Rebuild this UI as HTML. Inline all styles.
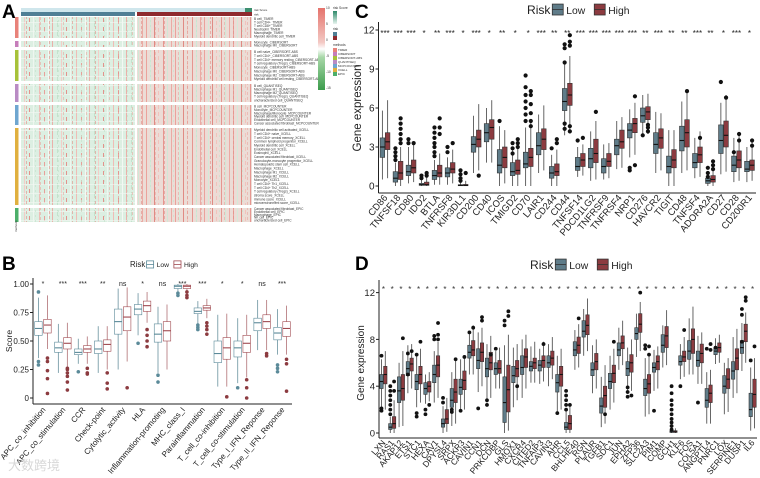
<!DOCTYPE html>
<html><head><meta charset="utf-8"><style>
html,body{margin:0;padding:0;background:#fff;}
svg{display:block;font-family:"Liberation Sans","Noto Sans CJK SC",sans-serif;}
</style></head><body>
<svg id="fig" width="760" height="478" viewBox="0 0 760 478" xmlns="http://www.w3.org/2000/svg">
<defs>
<pattern id="hmA" width="37" height="9" patternUnits="userSpaceOnUse">
<rect width="37" height="9" fill="#dcefe2"/>
<rect x="2" width="1" height="9" fill="#efbcb6"/><rect x="7" y="0" width="1" height="5" fill="#e8a09a"/>
<rect x="11" width="1" height="9" fill="#f4f8f4"/><rect x="15" width="1" height="9" fill="#eab0aa"/>
<rect x="20" y="3" width="1" height="6" fill="#c4e2cc"/><rect x="24" width="1" height="9" fill="#f3cdc8"/>
<rect x="29" width="1" height="4" fill="#e3928c"/><rect x="33" width="1" height="9" fill="#eef6ef"/>
<rect y="4" width="37" height="0.6" fill="#f3f8f3"/>
</pattern>
<pattern id="hmB" width="29" height="7" patternUnits="userSpaceOnUse">
<rect width="29" height="7" fill="#ecdcd6"/>
<rect x="1" width="1" height="7" fill="#eba29c"/><rect x="5" width="1" height="7" fill="#d4ead9"/>
<rect x="9" width="1" height="7" fill="#e08a84"/><rect x="13" width="1" height="4" fill="#f2c2bc"/>
<rect x="18" width="1" height="7" fill="#e6958f"/><rect x="22" width="1" height="7" fill="#d0e8d6"/>
<rect x="26" width="1" height="7" fill="#ebaaa4"/>
</pattern>
<pattern id="hmC" width="23" height="5" patternUnits="userSpaceOnUse">
<rect x="3" y="1" width="1" height="3" fill="#e38d87" opacity="0.6"/>
<rect x="12" y="0" width="1" height="2" fill="#c6e3cd" opacity="0.7"/>
<rect x="17" y="2" width="1" height="3" fill="#eaa6a0" opacity="0.6"/>
</pattern>
<linearGradient id="lgA" x1="0" y1="0" x2="0" y2="1">
<stop offset="0" stop-color="#e5736c"/><stop offset="0.42" stop-color="#f3c9c4"/><stop offset="0.5" stop-color="#ffffff"/><stop offset="0.6" stop-color="#a8d8a8"/><stop offset="1" stop-color="#3c9c4c"/>
</linearGradient>
<linearGradient id="lgR" x1="0" y1="0" x2="0" y2="1">
<stop offset="0" stop-color="#2e8a6a"/><stop offset="1" stop-color="#e8f4ef"/>
</linearGradient>
</defs>
<g id="panelA"></g>
<g id="panelB"></g>
<g id="panelC"></g>
<g id="panelD"></g>
<text x="8" y="470" font-size="13" fill="#d8d8d8">大数跨境</text>
</svg>
<script>
// ---------- Panel C data ----------
const genesC = ["CD86","TNFSF18","CD80","IDO2","BTLA","TNFRSF8","KIR3DL1","CD200","CD40","ICOS","TMIGD2","CD70","LAIR1","CD244","CD44","TNFSF14","PDCD1LG2","TNFRSF9","TNFRSF4","NRP1","CD276","HAVCR2","TIGIT","CD48","TNFSF4","ADORA2A","CD27","CD28","CD200R1"];
const sigC = ["***","***","***","*","**","***","*","***","*","**","*","*","***","**","**","***","***","***","***","***","**","***","**","**","***","**","*","***","*"];
const lowC = [[2.2,3.0,3.7,0.5,5.8],[0.3,0.6,1.1,0,1.8],[0.8,1.1,1.6,0.2,3],[0.05,0.1,0.2,0,0.5],[0.5,0.8,1.2,0.1,2],[0.7,1.0,1.4,0.1,2.2],[0.02,0.05,0.1,0,0.3],[2.6,3.2,3.8,1.0,5.4],[3.4,4.1,4.8,1.8,6.0],[1.0,1.6,2.8,0,4.6],[0.8,1.1,1.8,0,3],[1.4,1.7,2.6,0,4.5],[2.4,3.1,4.1,1.0,5.5],[0.6,1.0,1.5,0,2.4],[5.8,6.5,7.5,3.9,9.4],[1.2,1.5,2.2,0.7,3.0],[1.4,2.1,2.9,0.4,4.2],[1.0,1.5,2.1,0.5,3.2],[2.4,3.1,3.6,1.3,5.0],[3.7,4.3,4.8,2.2,5.9],[4.9,5.4,6.0,4.0,7.0],[2.5,3.2,4.1,1.0,5.7],[1.0,1.5,2.3,0,4.3],[2.7,3.5,4.6,1.0,6.5],[1.4,1.8,2.5,0.6,3.7],[0.2,0.4,0.6,0,1.0],[2.5,3.5,4.7,0.9,6.4],[1.1,1.6,2.3,0.3,3.7],[1.1,1.3,1.9,0.3,3.0]];
const highC = [[2.8,3.4,4.1,0.6,6.6],[0.5,1.0,1.9,0,3],[1.0,1.4,2.0,0.3,3.3],[0.05,0.1,0.3,0,0.7],[0.7,1.0,1.6,0.1,2.5],[1.0,1.3,1.8,0.2,2.8],[0.02,0.05,0.12,0,0.4],[3.0,3.6,4.3,1.2,6.3],[3.6,4.5,5.1,1.8,6.6],[1.4,2.2,3.0,0.2,4.3],[0.9,1.2,2.0,0,3.1],[1.5,2.2,2.9,0,5],[2.8,3.6,4.4,1.2,6.2],[0.8,1.1,1.7,0,2.8],[6.2,7.0,7.9,4.3,10],[1.5,2.0,2.5,0.8,3.2],[1.8,2.5,3.6,0.5,5.0],[1.5,1.9,2.5,0.6,3.3],[2.9,3.4,4.3,1.4,5.3],[4.1,4.8,5.2,2.4,6.4],[5.1,5.7,6.1,4.0,7.1],[2.9,3.7,4.4,1.2,5.6],[1.4,2.0,2.8,0,4.3],[3.0,4.1,5.1,1.2,7.2],[1.8,2.4,3.0,0.7,4.2],[0.3,0.5,0.8,0,1.3],[3.0,3.9,5.0,1.1,7.0],[1.4,2.0,2.7,0.4,4.1],[1.2,1.6,2.0,0.4,3.5]];
const outLowC = [[],[2.0,2.3,2.6,2.9],[3.3,3.6],[0.6,0.8],[2.3,2.6,3.0,3.3,3.7,4.1,4.5],[2.6,3.0],[0.4,0.6,0.9,1.2],[],[],[5.0],[2.5,2.9,3.3],[5.0,5.5,6.0,6.5,7.0,7.6,8.5],[],[2.9],[4.4,4.8,10.6,9.5,10.9],[3.5],[],[],[],[1.2,1.4],[3.9],[],[],[],[],[1.0,1.4,0.7],[8.0],[2.6],[]];
const outHighC = [[],[3.3,3.6,4.0,4.4,4.8,5.2],[3.3],[0.8,1.0],[4.0,4.5,5.2],[3.3],[1.0],[0.8],[],[],[3.0,3.3,3.6],[4.6,5.0,5.6,6.3,7.0,7.3],[],[3.3,3.6],[4.2,4.6,11.6,11.1,10.8],[3.7],[5.7],[],[],[6.9,1.6],[4.2,4.5,4.7],[],[],[7.3],[3.7],[1.3,1.6,1.9],[6.8],[4.0,3.5],[3.5,3.1]];
const ticksC = [0,3,6,9,12];

// ---------- Panel B data ----------
const catsB = ["APC_co_inhibition","APC_co_stimulation","CCR","Check-point","Cytolytic_activity","HLA","Inflammation-promoting","MHC_class_I","Parainflammation","T_cell_co-inhibition","T_cell_co-stimulation","Type_I_IFN_Reponse","Type_II_IFN_Reponse"];
const sigB = ["*","***","***","**","ns","*","ns","***","***","*","*","ns","***"];
const lowB = [[0.55,0.61,0.67,0.35,0.88],[0.40,0.44,0.49,0.22,0.65],[0.38,0.40,0.43,0.30,0.52],[0.39,0.43,0.50,0.22,0.63],[0.56,0.67,0.78,0.25,0.96],[0.73,0.78,0.82,0.55,0.92],[0.49,0.56,0.65,0.22,0.80],[0.96,0.98,0.99,0.93,1.0],[0.74,0.76,0.79,0.65,0.85],[0.31,0.39,0.50,0.10,0.73],[0.36,0.44,0.50,0.13,0.70],[0.59,0.66,0.70,0.42,0.86],[0.51,0.57,0.62,0.38,0.78]];
const highB = [[0.57,0.64,0.69,0.43,0.90],[0.43,0.48,0.53,0.27,0.66],[0.40,0.43,0.46,0.30,0.54],[0.41,0.47,0.51,0.25,0.63],[0.59,0.71,0.80,0.32,0.97],[0.76,0.81,0.85,0.66,0.93],[0.50,0.59,0.67,0.25,0.82],[0.96,0.98,0.99,0.93,1.0],[0.77,0.79,0.81,0.70,0.87],[0.34,0.44,0.53,0.10,0.74],[0.40,0.48,0.55,0.18,0.73],[0.61,0.67,0.73,0.42,0.86],[0.54,0.61,0.67,0.38,0.81]];
const outLowB = [[0.93,0.32,0.29],[],[0.23],[],[],[0.48],[0.20,0.14],[0.90,0.92],[0.60,0.62,0.64],[],[0.09],[],[0.29,0.26,0.23]];
const outHighB = [[0.35,0.32,0.24,0.17,0.04],[0.25,0.22,0.19,0.14,0.07,0.26],[0.26,0.22,0.21],[0.22,0.13,0.08],[0.09],[0.60,0.55,0.50,0.45],[],[0.88,0.90,0.93],[0.66,0.63,0.60,0.56],[0.01],[0.16,0.09,0.0],[0.39,0.37],[0.34,0.30,0.06]];
const ticksB = [0,0.25,0.5,0.75,1.0];
const tickLabB = ["0","0.25","0.50","0.75","1.00"];

// ---------- Panel D data ----------
const genesD = ["LXN","RAS1","AKAP12","ETS1","STC1","HEXA","CAV1","DPYSL4","SRPX","ACKR3","CAVIN1","CCN1","DCN","PRKCDBP","GLS","HMOX1","CXCR4","CITED2","TNFAIP3","CAVIN3","AHR","CCL5","BHLHE40","RGN","PLAUR","TGFB1","SDC1","JUN","EPHA2","ZFP36","SLC2A3","PIM1","COMP","GCH1","KLF6","FOS","COL5A1","ANGPTL4","PNRC1","LOX","SERPINE1","DUSP1","IL6"];
const lowD = [[3.8,4.4,5.0,1.8,6.3],[0.3,0.5,0.8,0,1.4],[2.6,3.6,4.8,0.5,6.0],[4.9,5.5,6.1,3.4,7.5],[3.7,4.4,5.0,2.2,6.8],[3.3,3.8,4.3,2.5,5.0],[4.3,5.0,5.8,2.6,7.0],[0.5,0.8,1.2,0,2.3],[2.2,2.8,3.8,0.6,5.2],[3.3,3.9,4.6,1.8,6.3],[6.4,6.9,7.5,5.0,8.5],[5.5,6.2,7.2,3.5,8.6],[4.8,5.5,6.4,2.6,7.6],[5.0,5.5,6.0,3.8,7.0],[0.9,2.6,4.8,0,7.5],[4.3,4.9,5.7,2.2,7.3],[5.0,5.6,6.6,3.0,8.0],[5.3,5.7,6.1,4.3,7.4],[5.3,5.8,6.2,4.2,7.2],[5.6,6.0,6.6,4.0,7.6],[3.5,4.3,5.0,1.8,6.6],[0.3,0.5,0.9,0,2.0],[6.6,7.1,7.8,5.4,8.8],[8.2,8.7,9.6,6.6,10.6],[4.9,5.4,6.0,3.4,7.5],[1.7,2.3,3.0,0.5,4.8],[3.8,4.4,5.1,2.0,6.6],[6.6,7.1,7.7,5.4,9.0],[4.9,5.5,6.1,3.4,7.3],[8.0,8.5,9.0,6.5,10.2],[3.2,3.8,4.6,1.4,6.4],[5.2,5.6,6.0,3.6,7.1],[6.9,7.5,8.4,5.6,9.2],[0.05,0.1,0.2,0,0.5],[5.8,6.1,6.6,4.6,7.6],[6.3,7.0,7.9,5.0,9.8],[5.7,6.2,7.0,4.2,8.3],[2.2,2.8,3.8,0.8,5.2],[6.7,7.0,7.3,5.9,8.1],[3.4,4.0,4.9,1.6,6.0],[4.6,5.3,6.1,3.0,8.2],[6.8,7.3,7.9,5.3,9.4],[1.4,2.0,3.4,0.2,5.6]];
const highD = [[4.2,5.0,5.7,2.0,7.0],[0.4,0.8,1.4,0,2.8],[2.8,3.8,5.0,0.6,7.0],[5.3,5.9,6.4,3.8,7.6],[4.2,5.0,5.7,2.6,7.2],[3.5,4.0,4.4,2.7,5.2],[4.8,5.8,6.6,3.0,7.8],[0.8,1.2,2.0,0.1,3.0],[2.6,3.5,4.6,0.8,6.2],[3.7,4.5,5.3,2.0,6.6],[6.6,7.1,7.9,5.0,9.2],[6.1,6.9,7.7,4.0,9.0],[5.4,6.0,6.9,3.0,8.3],[5.1,5.5,6.2,3.8,7.3],[1.8,3.7,5.8,0.2,8.4],[4.8,5.5,6.2,2.8,7.6],[5.6,6.5,7.2,3.8,8.4],[5.5,6.0,6.4,4.3,7.8],[5.6,6.2,6.6,4.4,7.8],[5.8,6.4,7.0,4.6,8.2],[4.0,5.0,5.7,2.0,7.2],[0.3,0.8,1.5,0,2.4],[6.8,7.5,8.2,5.6,9.3],[8.4,9.2,10.1,7.0,11.5],[5.4,6.1,6.8,3.8,8.0],[2.2,3.2,4.0,0.8,5.8],[4.3,5.1,5.8,2.6,7.2],[7.2,7.7,8.3,5.8,9.6],[5.2,6.0,6.7,3.6,8.0],[8.6,9.3,10.2,7.0,11.2],[3.4,4.2,5.0,1.6,6.8],[5.4,6.1,6.6,3.8,7.4],[7.3,8.3,9.1,5.8,10.5],[0.05,0.1,0.2,0,0.4],[6.1,6.5,7.0,4.8,8.2],[6.8,8.0,8.9,5.0,10.8],[6.0,6.8,7.6,4.2,8.6],[2.6,3.4,4.1,0.8,5.4],[6.9,7.3,7.7,6.0,8.4],[3.8,4.6,5.5,1.8,6.4],[5.4,6.4,7.2,3.4,8.9],[7.8,8.7,9.3,6.0,10.3],[2.2,3.3,4.6,0.4,6.4]];
const outLowD = [[6.6,1.9,2.1],[1.6,2.0,2.4,2.8,3.2,3.6,4.0],[],[5.0,6.8],[1.4,1.7,6.7],[2.0,1.6],[8.0,8.3],[2.6,3.0],[1.8,2.0],[1.9],[8.6],[2.1],[2.4,2.8],[7.2],[9.2,9.6],[],[],[],[],[],[1.7],[2.0,2.4,2.8,3.2,3.6],[],[],[],[],[],[],[3.9,3.5,3.1],[],[7.2,7.5],[1.9],[],[0.3,0.6,0.9,1.2,1.6,2.0,2.4,2.8,3.4,4.0],[4.0],[],[2.6],[7.2],[7.3],[],[],[7.8,10.6,10.1],[6.2]];
const outHighD = [[],[4.4,3.6],[8.1],[7.0],[7.8],[2.4],[9.4,8.4,8.0],[],[6.3],[6.5],[9.0],[9.6,9.9],[6.7],[],[10.0,10.4],[4.0],[],[],[7.6],[],[],[2.4],[9.8],[],[],[1.6],[7.8],[],[3.2],[12.0],[7.4,6.7],[],[],[],[8.8],[],[],[7.6,7.1],[],[],[],[11.3,11.6],[7.4]];
const ticksD = [0,4,8,12];

// ---------- Panel A (heatmap annotations) ----------
const groupsA = [[17,38],[41,47],[50,81],[84,102],[105,125],[128,205],[208,222]];
const groupColA = ["#e8827a","#c67dba","#a7c23a","#b98bc4","#6fa6d0","#e0b040","#4caf6a"];
const methodsA = ["TIMER","CIBERSORT","CIBERSORT-ABS","QUANTISEQ","MCPCOUNTER","XCELL","EPIC"];
const rowLabelsA = [
 ["B cell_TIMER","T cell CD4+_TIMER","T cell CD8+_TIMER","Neutrophil_TIMER","Macrophage_TIMER","Myeloid dendritic cell_TIMER"],
 ["Monocyte_CIBERSORT","Macrophage M0_CIBERSORT"],
 ["B cell naive_CIBERSORT-ABS","T cell CD4+_CIBERSORT-ABS","T cell CD4+ memory resting_CIBERSORT-ABS","T cell regulatory (Tregs)_CIBERSORT-ABS","Monocyte_CIBERSORT-ABS","Macrophage M0_CIBERSORT-ABS","Macrophage M2_CIBERSORT-ABS","Myeloid dendritic cell resting_CIBERSORT-ABS"],
 ["B cell_QUANTISEQ","Macrophage M1_QUANTISEQ","Macrophage M2_QUANTISEQ","T cell regulatory (Tregs)_QUANTISEQ","uncharacterized cell_QUANTISEQ"],
 ["B cell_MCPCOUNTER","Monocyte_MCPCOUNTER","Macrophage/Monocyte_MCPCOUNTER","Myeloid dendritic cell_MCPCOUNTER","Endothelial cell_MCPCOUNTER","Cancer associated fibroblast_MCPCOUNTER"],
 ["Myeloid dendritic cell activated_XCELL","T cell CD4+ naive_XCELL","T cell CD4+ central memory_XCELL","Common lymphoid progenitor_XCELL","Myeloid dendritic cell_XCELL","Endothelial cell_XCELL","Eosinophil_XCELL","Cancer associated fibroblast_XCELL","Granulocyte-monocyte progenitor_XCELL","Hematopoietic stem cell_XCELL","Macrophage_XCELL","Macrophage M1_XCELL","Macrophage M2_XCELL","Monocyte_XCELL","T cell CD4+ Th1_XCELL","T cell CD4+ Th2_XCELL","T cell regulatory (Tregs)_XCELL","stroma score_XCELL","immune score_XCELL","microenvironment score_XCELL"],
 ["Cancer associated fibroblast_EPIC","Endothelial cell_EPIC","Macrophage_EPIC","NK cell_EPIC","uncharacterized cell_EPIC"]];

const NS = "http://www.w3.org/2000/svg";
function mk(parent, tag, attrs, txt){
  const e = document.createElementNS(NS, tag);
  for (const k in attrs) e.setAttribute(k, attrs[k]);
  if (txt !== undefined) e.textContent = txt;
  parent.appendChild(e);
  return e;
}

function drawBox(g, cx, w, s, y, fill, stroke, medCol, whiskCol, outs, outCol, r, name){
  const bg = mk(g, "g", {});
  
  
  mk(bg, "line", {x1:cx, x2:cx, y1:y(s[3]), y2:y(s[4]), stroke:whiskCol, "stroke-width":0.9});
  mk(bg, "rect", {x:cx-w/2, y:y(s[2]), width:w, height:Math.max(0.6, y(s[0])-y(s[2])), fill:fill, stroke:stroke, "stroke-width":0.6});
  mk(bg, "line", {x1:cx-w/2, x2:cx+w/2, y1:y(s[1]), y2:y(s[1]), stroke:medCol, "stroke-width":1.1});
  (outs||[]).forEach(v => mk(bg, "circle", {cx:cx, cy:y(v), r:r, fill:outCol}));
}

function legend(g, x, y, fs, lowFill, lowStroke, highFill, highStroke, name){
  const lg = mk(g, "g", {});
  
  
  const bw = fs*0.95;
  mk(lg, "text", {x:x, y:y, "font-size":fs*1.05, fill:"#222"}, "Risk");
  let xx = x + fs*2.2;
  mk(lg, "rect", {x:xx, y:y-bw+1, width:bw, height:bw, fill:lowFill, stroke:lowStroke, "stroke-width":0.8});
  mk(lg, "line", {x1:xx, x2:xx+bw, y1:y-bw/2+1, y2:y-bw/2+1, stroke:lowStroke, "stroke-width":0.8});
  mk(lg, "text", {x:xx+bw+3, y:y, "font-size":fs*0.9, fill:"#222"}, "Low");
  xx += bw + fs*2.7;
  mk(lg, "rect", {x:xx, y:y-bw+1, width:bw, height:bw, fill:highFill, stroke:highStroke, "stroke-width":0.8});
  mk(lg, "line", {x1:xx, x2:xx+bw, y1:y-bw/2+1, y2:y-bw/2+1, stroke:highStroke, "stroke-width":0.8});
  mk(lg, "text", {x:xx+bw+3, y:y, "font-size":fs*0.9, fill:"#222"}, "High");
}

// ===== Panel C =====
(function(){
  const g = document.getElementById("panelC");
  const y = v => 186 - 13*v;
  const x0 = 378.5, x1 = 756, step = (x1-x0)/genesC.length;
  const xc = i => x0 + step*(i+0.5);
  mk(g, "text", {x:355, y:18, "font-size":19, "font-weight":"bold"}, "C");
  legend(g, 527, 14, 11.5, "#5f7c89", "#333", "#8c3b40", "#333", "legend-c");
  mk(g, "line", {x1:x0, x2:x0, y1:22, y2:193, stroke:"#222", "stroke-width":1});
  mk(g, "line", {x1:x0, x2:x1, y1:193, y2:193, stroke:"#222", "stroke-width":1});
  ticksC.forEach(t => {
    mk(g, "line", {x1:x0-3, x2:x0, y1:y(t), y2:y(t), stroke:"#222"});
    const tl = mk(g, "text", {x:x0-4, y:y(t)+3.5, "font-size":10, "text-anchor":"end", fill:"#222"}, String(t));
    
    
  });
  const yt = mk(g, "text", {x:0, y:0, "font-size":11.5, "text-anchor":"middle", transform:"translate(361,108) rotate(-90)", fill:"#222"}, "Gene expression");
  
  
  genesC.forEach((gn, i) => {
    const cx = xc(i);
    drawBox(g, cx-2.6, 4.6, lowC[i], y, "#5f7c89", "#333", "#111", "#555", outLowC[i], "#111", 2.1, "box-low-"+gn);
    drawBox(g, cx+2.6, 4.6, highC[i], y, "#8c3b40", "#333", "#111", "#555", outHighC[i], "#111", 2.1, "box-high-"+gn);
    const st = mk(g, "text", {x:cx, y:36, "font-size":8, "text-anchor":"middle", fill:"#222"}, sigC[i]);
    
    
    const lb = mk(g, "text", {x:0, y:0, "font-size":9.5, "text-anchor":"end", transform:"translate("+(cx+3)+",198) rotate(-50)", fill:"#222"}, gn);
    
    
  });
})();

// ===== Panel B =====
(function(){
  const g = document.getElementById("panelB");
  const y = v => 398 - 114*v;
  const x0 = 33, x1 = 292, step = (x1-x0)/catsB.length;
  const xc = i => x0 + step*(i+0.5);
  mk(g, "text", {x:2, y:270, "font-size":19, "font-weight":"bold"}, "B");
  legend(g, 130, 267, 7.5, "#fff", "#5b8a99", "#fff", "#a04a50", "legend-b");
  mk(g, "line", {x1:x0, x2:x0, y1:278, y2:404, stroke:"#222", "stroke-width":1});
  mk(g, "line", {x1:x0, x2:x1, y1:404, y2:404, stroke:"#222", "stroke-width":1});
  ticksB.forEach((t, k) => {
    mk(g, "line", {x1:x0-3, x2:x0, y1:y(t), y2:y(t), stroke:"#222"});
    const tl = mk(g, "text", {x:x0-4, y:y(t)+3, "font-size":8, "text-anchor":"end", fill:"#222"}, tickLabB[k]);
    
    
  });
  const yt = mk(g, "text", {x:0, y:0, "font-size":8.5, "text-anchor":"middle", transform:"translate(12,341) rotate(-90)", fill:"#222"}, "Score");
  
  
  catsB.forEach((c, i) => {
    const cx = xc(i);
    drawBox(g, cx-4.5, 7.5, lowB[i], y, "#fff", "#5b8a99", "#5b8a99", "#7a9ea9", outLowB[i], "#5b8a99", 1.8, "box-low-"+c);
    drawBox(g, cx+4.5, 7.5, highB[i], y, "#fff", "#a04a50", "#a04a50", "#b98084", outHighB[i], "#8c3b40", 1.8, "box-high-"+c);
    const st = mk(g, "text", {x:cx, y:286, "font-size":7, "text-anchor":"middle", fill:"#222"}, sigB[i]);
    
    
    const lb = mk(g, "text", {x:0, y:0, "font-size":8, "text-anchor":"end", transform:"translate("+(cx+3)+",410) rotate(-50)", fill:"#222"}, c);
    
    
  });
})();

// ===== Panel D =====
(function(){
  const g = document.getElementById("panelD");
  const y = v => 433 - 11.7*v;
  const x0 = 379, x1 = 757, step = (x1-x0)/genesD.length;
  const xc = i => x0 + step*(i+0.5);
  mk(g, "text", {x:355, y:270, "font-size":19, "font-weight":"bold"}, "D");
  legend(g, 530, 269, 11.5, "#5f7c89", "#333", "#8c3b40", "#333", "legend-d");
  mk(g, "line", {x1:x0, x2:x0, y1:280, y2:438, stroke:"#222", "stroke-width":1});
  mk(g, "line", {x1:x0, x2:x1, y1:438, y2:438, stroke:"#222", "stroke-width":1});
  ticksD.forEach(t => {
    mk(g, "line", {x1:x0-3, x2:x0, y1:y(t), y2:y(t), stroke:"#222"});
    const tl = mk(g, "text", {x:x0-4, y:y(t)+3.5, "font-size":9.5, "text-anchor":"end", fill:"#222"}, String(t));
    
    
  });
  const yt = mk(g, "text", {x:0, y:0, "font-size":10, "text-anchor":"middle", transform:"translate(364,363) rotate(-90)", fill:"#222"}, "Gene expression");
  
  
  genesD.forEach((gn, i) => {
    const cx = xc(i);
    drawBox(g, cx-1.9, 3.4, lowD[i], y, "#5f7c89", "#333", "#111", "#555", outLowD[i], "#111", 1.9, "box-low-"+gn);
    drawBox(g, cx+1.9, 3.4, highD[i], y, "#8c3b40", "#333", "#111", "#555", outHighD[i], "#111", 1.9, "box-high-"+gn);
    const st = mk(g, "text", {x:cx, y:292, "font-size":8, "text-anchor":"middle", fill:"#333"}, "*");
    
    
    const lb = mk(g, "text", {x:0, y:0, "font-size":8.5, "text-anchor":"end", transform:"translate("+(cx+2.5)+",443) rotate(-50)", fill:"#222"}, gn);
    
    
  });
})();

// ===== Panel A =====
(function(){
  const g = document.getElementById("panelA");
  mk(g, "text", {x:2, y:18, "font-size":19, "font-weight":"bold"}, "A");
  const tb = mk(g, "rect", {x:21, y:8, width:231, height:4, fill:"#cfe6ec"});
  
  
  mk(g, "rect", {x:245, y:8, width:7, height:4, fill:"#3c8f6e"});
  const lowBar = mk(g, "rect", {x:21, y:12, width:114, height:4, fill:"#4f7f95"});
  
  
  const highBar = mk(g, "rect", {x:137, y:12, width:115, height:4, fill:"#8e2a2e"});
  
  
  mk(g, "text", {x:254, y:11, "font-size":3, fill:"#333"}, "risk Score");
  mk(g, "text", {x:254, y:15.5, "font-size":3, fill:"#333"}, "risk");
  groupsA.forEach((gr, k) => {
    const h = gr[1]-gr[0];
    const s = mk(g, "rect", {x:15, y:gr[0], width:3.5, height:h, fill:groupColA[k]});
    
    
    const c1 = mk(g, "rect", {x:21, y:gr[0], width:114, height:h, fill:"url(#hmA)"});
    
    
    mk(g, "rect", {x:21, y:gr[0], width:114, height:h, fill:"url(#hmC)"});
    const c2 = mk(g, "rect", {x:137, y:gr[0], width:115, height:h, fill:"url(#hmB)"});
    
    
    mk(g, "rect", {x:137, y:gr[0], width:115, height:h, fill:"url(#hmC)"});
    const labs = rowLabelsA[k];
    labs.forEach((l, j) => {
      const ly = gr[0] + (j+0.8)*h/labs.length;
      mk(g, "text", {x:254, y:ly, "font-size":3.2, fill:"#333"}, l);
    });
  });
  mk(g, "text", {x:0, y:0, "font-size":3, transform:"translate(17,232) rotate(-90)", fill:"#333"}, "methods");
  const lg = mk(g, "rect", {x:318, y:8, width:7, height:82, fill:"url(#lgA)"});
  
  
  ["10","5","0","-5","-10","-15"].forEach((t, k) => mk(g, "text", {x:326, y:9+k*16, "font-size":3.3, fill:"#333"}, t));
  mk(g, "text", {x:333, y:9, "font-size":3.3, fill:"#333"}, "risk Score");
  mk(g, "rect", {x:333, y:11, width:4, height:13, fill:"url(#lgR)"});
  mk(g, "text", {x:333, y:30, "font-size":3.3, fill:"#333"}, "risk");
  mk(g, "rect", {x:333, y:32, width:4, height:4, fill:"#4f7f95"});
  mk(g, "rect", {x:333, y:36, width:4, height:4, fill:"#8e2a2e"});
  mk(g, "text", {x:333, y:46, "font-size":3.3, fill:"#333"}, "methods");
  methodsA.forEach((m, k) => {
    mk(g, "rect", {x:333, y:48+k*4, width:4, height:4, fill:groupColA[k]});
    mk(g, "text", {x:338, y:51+k*4, "font-size":3, fill:"#333"}, m);
  });
})();
</script>
</body></html>
